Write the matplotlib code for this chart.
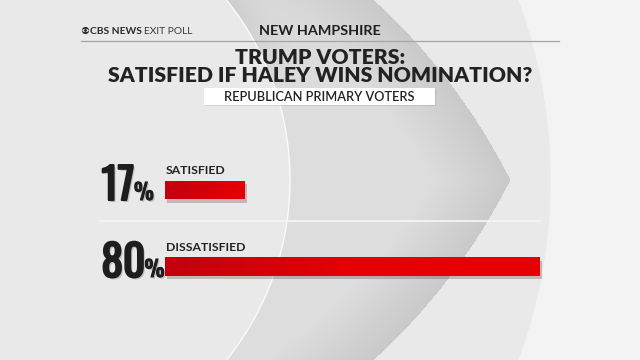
import numpy as np
import matplotlib
matplotlib.use('Agg')
import matplotlib.pyplot as plt
import matplotlib.patches as mpatches
import matplotlib.patheffects as pe
from matplotlib import font_manager

# data
categories = ['SATISFIED', 'DISSATISFIED']
values = [17, 80]
header_left = 'CBS NEWS'
header_left2 = 'EXIT POLL'
state = 'NEW HAMPSHIRE'
title_lines = ['TRUMP VOTERS:', 'SATISFIED IF HALEY WINS NOMINATION?']
subtitle = 'REPUBLICAN PRIMARY VOTERS'

installed = {f.name for f in font_manager.fontManager.ttflist}


def pick(*names):
    for n in names:
        if n in installed:
            return n
    return 'DejaVu Sans'


title_font = pick('Lato', 'Open Sans', 'Roboto')
num_font = pick('Oswald', 'Barlow Condensed', 'Anton', 'Archivo Narrow')
# font size (pt) for the big numbers and the % sign, per family
num_sizes = {'Oswald': (31, 16), 'Barlow Condensed': (35, 18), 'Anton': (29, 15),
             'Archivo Narrow': (33, 17)}
num_size, pct_size = num_sizes.get(num_font, (30, 16))

W, H = 640, 360
fig = plt.figure(figsize=(6.4, 3.6), dpi=100)
ax = fig.add_axes([0, 0, 1, 1])
ax.set_xlim(0, W)
ax.set_ylim(H, 0)
ax.axis('off')

# background: light outside, CBS eye shapes inside
ax.add_patch(mpatches.Rectangle((0, 0), W, H, color='#f3f3f3', zorder=0))
ax.add_patch(mpatches.Circle((30, 180), 520, color='#e9e9e9', zorder=0.1))

# lens of the eye, darker toward its edges
yy, xx = np.mgrid[0:H, 0:W] + 0.5
r_lens = 617
dA = r_lens - np.hypot(xx + 41, yy - 457)
dB = r_lens - np.hypot(xx + 41, yy + 97)
d = np.minimum(dA, dB)
shade = 0.79 + 0.08 * np.clip(d / 70, 0, 1)
# darker band along the pupil at the top
dp = np.hypot(xx - 3, yy - 180) - 287
shade -= 0.07 * np.exp(-np.clip(dp, 0, None) / 25) * np.clip((110 - yy) / 110, 0, 1)
rgba = np.zeros((H, W, 4))
rgba[..., 0] = shade
rgba[..., 1] = shade
rgba[..., 2] = shade
rgba[..., 3] = (d > 0).astype(float)
ax.imshow(rgba, extent=[0, W, H, 0], zorder=0.2, interpolation='bilinear')
ax.set_xlim(0, W)
ax.set_ylim(H, 0)

# pupil
ax.add_patch(mpatches.Circle((3, 180), 287, facecolor='#e9e9e9',
                             edgecolor='#fafafa', lw=1.0, zorder=0.3))

# header
ax.add_patch(mpatches.Circle((85.5, 30.5), 3.6, facecolor='#2a2a2a', zorder=3))
ax.add_patch(mpatches.Ellipse((85.5, 30.5), 6.4, 3.2, facecolor='#e8e8e8', zorder=3))
ax.add_patch(mpatches.Circle((85.5, 30.5), 1.4, facecolor='#2a2a2a', zorder=3))
ax.text(89.5, 34.3, header_left, fontsize=7.4, fontweight='bold', family=title_font,
        color='#2a2a2a', zorder=3)
ax.text(143.5, 34.3, header_left2, fontsize=7.4, family=title_font,
        color='#3a3a3a', zorder=3)
ax.text(320, 35.3, state, fontsize=10.4, fontweight='bold', family=title_font,
        color='#1f1f1f', ha='center', zorder=3)
ax.plot([81, 559], [40.7, 40.7], color='#a5a5a5', lw=0.9, zorder=2)

ax.text(320, 63.5, title_lines[0], fontsize=15.2, fontweight='heavy', family=title_font,
        color='#222222', ha='center', zorder=3)
ax.text(320, 81.5, title_lines[1], fontsize=15.2, fontweight='heavy', family=title_font,
        color='#222222', ha='center', zorder=3)

box = mpatches.Rectangle((204, 88), 231, 16.5, facecolor='white', edgecolor='none', zorder=2,
                         path_effects=[pe.SimplePatchShadow(offset=(1, -1), alpha=0.15), pe.Normal()])
ax.add_patch(box)
ax.text(319.5, 101.3, subtitle, fontsize=9.2, fontweight='semibold', family=title_font,
        color='#222222', ha='center', zorder=3)

# separator between rows
ax.plot([100, 540], [221, 221], color='#f7f7f7', lw=1.2, zorder=1)

# bars
axb = fig.add_axes([165 / W, 1 - 290 / H, 468.75 / W, 130 / H])
axb.set_xlim(0, 100)
axb.set_ylim(290, 160)
axb.axis('off')
row_y = [190, 266.5]
bars = axb.barh(row_y, values, height=18.5, left=0, color='#dd0008', zorder=2,
                path_effects=[pe.SimplePatchShadow(offset=(1.5, -2.5), alpha=0.22), pe.Normal()])
grad = np.linspace(0, 1, 256)[None, :]
cmap = matplotlib.colors.LinearSegmentedColormap.from_list('redgrad', ['#c2000f', '#e60003', '#e60003'])
for bar in bars:
    x0, y0 = bar.get_x(), bar.get_y()
    w, h = bar.get_width(), bar.get_height()
    ext_w = max(w, 34)
    im = axb.imshow(grad, extent=[x0, x0 + ext_w, y0 + h, y0], aspect='auto', cmap=cmap, zorder=3)
    im.set_clip_path(bar)
axb.set_xlim(0, 100)
axb.set_ylim(290, 160)

# numbers and labels
fig.canvas.draw()
renderer = fig.canvas.get_renderer()
num_color = '#1e1e1e'
heavy = [pe.SimplePatchShadow(offset=(1.5, -1.5), alpha=0.18),
         pe.Stroke(linewidth=1.6, foreground=num_color), pe.Normal()]
heavy_pct = [pe.SimplePatchShadow(offset=(1.2, -1.2), alpha=0.18),
             pe.Stroke(linewidth=0.8, foreground=num_color), pe.Normal()]
num_base = [200, 277]
lab_base = [174, 251]
for i, (cat, v) in enumerate(zip(categories, values)):
    t = ax.text(101.5, num_base[i], f'{v}', fontsize=num_size, fontweight='bold', family=num_font,
                color=num_color, zorder=3, path_effects=heavy)
    bb = t.get_window_extent(renderer)
    ax.text(bb.x1 - 0.5, num_base[i], '%', fontsize=pct_size, fontweight='bold', family=num_font,
            color=num_color, zorder=3, path_effects=heavy_pct)
    ax.text(166, lab_base[i], cat, fontsize=8.8, fontweight='bold', family=title_font,
            color='#222222', zorder=3)

fig.savefig('out.png', dpi=100)
